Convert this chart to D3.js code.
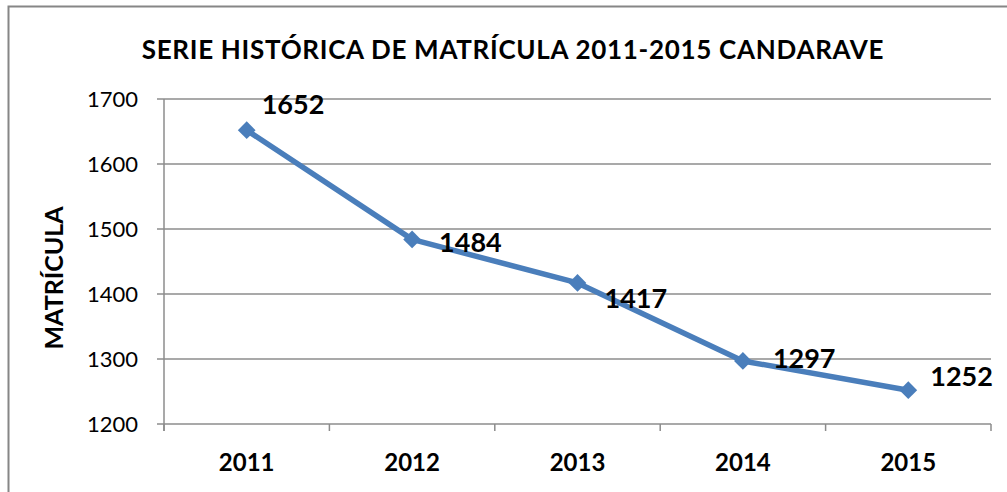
<!DOCTYPE html>
<html>
<head>
<meta charset="utf-8">
<script src="https://cdn.jsdelivr.net/npm/d3@7"></script>
<style>
  html, body { margin: 0; padding: 0; background: #fff; }
  svg { display: block; font-family: Lato, "Open Sans", sans-serif; }
</style>
</head>
<body>
<svg id="chart" width="1007" height="492"></svg>
<script>
// data
const years = ['2011', '2012', '2013', '2014', '2015'];
const matricula = [1652, 1484, 1417, 1297, 1252];
const yTicks = [1200, 1300, 1400, 1500, 1600, 1700];

const svg = d3.select('#chart');
const m = { top: 99, right: 16, bottom: 68, left: 164 };
const W = 1007, H = 492;
const iw = W - m.left - m.right, ih = H - m.top - m.bottom;

// outer chart border
svg.append('rect').attr('x', 8.5).attr('y', 6.5).attr('width', 1010).attr('height', 500)
  .attr('fill', 'none').attr('stroke', '#868686').attr('stroke-width', 2);

svg.append('text').attr('x', 513).attr('y', 59).attr('text-anchor', 'middle')
  .style('font-size', '26px').style('font-weight', 700).style('letter-spacing', '0.7px')
  .text('SERIE HISTÓRICA DE MATRÍCULA 2011-2015 CANDARAVE');

const g = svg.append('g').attr('transform', `translate(${m.left},${m.top})`);
const x = d3.scaleBand(years, [0, iw]);
const y = d3.scaleLinear([1200, 1700], [ih, 0]);

// gridlines
g.append('g').selectAll('line').data(yTicks).join('line')
  .attr('x1', -7).attr('x2', iw).attr('y1', d => y(d)).attr('y2', d => y(d))
  .attr('stroke', '#8c8c8c').attr('stroke-width', 1.5);
// y axis line
g.append('line').attr('x1', 0).attr('x2', 0).attr('y1', 0).attr('y2', ih + 7)
  .attr('stroke', '#8c8c8c').attr('stroke-width', 1.5);
// category ticks
g.append('g').selectAll('line').data(d3.range(years.length + 1)).join('line')
  .attr('x1', i => i * x.bandwidth()).attr('x2', i => i * x.bandwidth())
  .attr('y1', ih).attr('y2', ih + 7).attr('stroke', '#8c8c8c').attr('stroke-width', 1.5);

g.append('g').selectAll('text').data(yTicks).join('text')
  .attr('x', -26).attr('y', d => y(d)).attr('dy', '0.36em').attr('text-anchor', 'end')
  .style('font-size', '22px').text(d => d);

g.append('g').selectAll('text').data(years).join('text')
  .attr('x', d => x(d) + x.bandwidth() / 2).attr('y', ih + 47).attr('text-anchor', 'middle')
  .style('font-size', '24px').style('font-weight', 700).text(d => d);

svg.append('text').attr('transform', 'translate(63,278) rotate(-90)').attr('text-anchor', 'middle')
  .style('font-size', '25px').style('font-weight', 700).text('MATRÍCULA');

const pts = years.map((yr, i) => ({ yr, v: matricula[i] }));
const cx = d => x(d.yr) + x.bandwidth() / 2;
g.append('path').datum(pts).attr('fill', 'none').attr('stroke', '#4a7ebb').attr('stroke-width', 5.5)
  .attr('stroke-linejoin', 'round').attr('d', d3.line().x(cx).y(d => y(d.v)));
g.append('g').selectAll('path').data(pts).join('path')
  .attr('transform', d => `translate(${cx(d)},${y(d.v)})`)
  .attr('d', d3.symbol(d3.symbolDiamond2, 200)).attr('fill', '#4a7ebb');

// label nudges (dx, dy) relative to the point, as placed in the original
const nudge = [[15, -26], [27, 3], [27, 15], [30, -3], [22, -14]];
g.append('g').selectAll('text').data(pts).join('text')
  .attr('x', (d, i) => cx(d) + nudge[i][0]).attr('y', (d, i) => y(d.v) + nudge[i][1])
  .attr('dy', '0.36em').style('font-size', '27px').style('font-weight', 700).text(d => d.v);
</script>
</body>
</html>
